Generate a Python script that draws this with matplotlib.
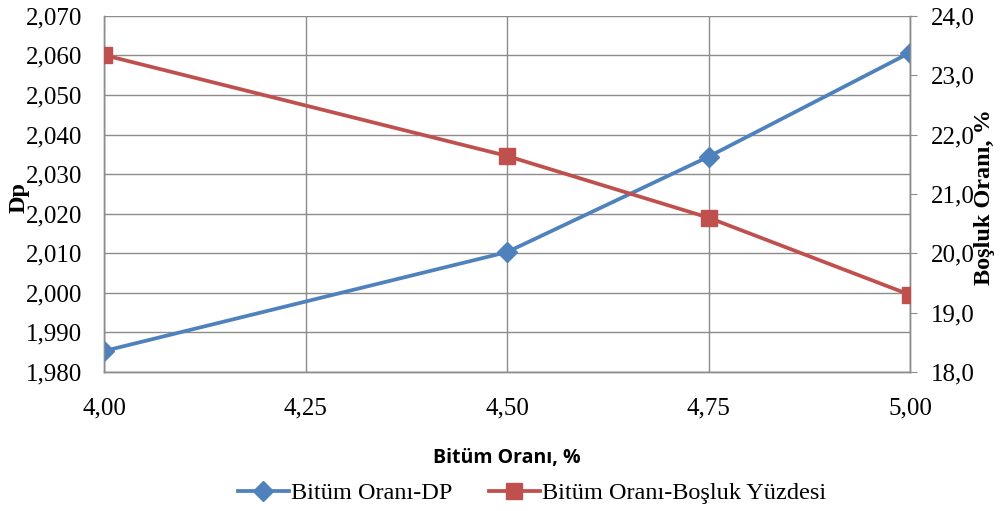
import matplotlib.pyplot as plt
from matplotlib.ticker import FuncFormatter

# Data
bitum = [4.00, 4.50, 4.75, 5.00]
dp = [1.9853, 2.0103, 2.0344, 2.0607]
bosluk = [23.34, 21.64, 20.60, 19.30]

x_ticks = [4.00, 4.25, 4.50, 4.75, 5.00]

blue = '#4F81BD'
red = '#C0504D'
grey = '#8C8C8C'
serif = ['Liberation Serif', 'DejaVu Serif']

fig = plt.figure(figsize=(10, 5.11), dpi=100)
ax = fig.add_axes([0.104, 0.272, 0.806, 0.697])
ax2 = ax.twinx()

l1, = ax.plot(bitum, dp, color=blue, lw=2.7, marker='D', ms=10.5,
              label='Bitüm Oranı-DP', zorder=3)
l2, = ax2.plot(bitum, bosluk, color=red, lw=2.7, marker='s', ms=12,
               label='Bitüm Oranı-Boşluk Yüzdesi', zorder=3)

ax.set_xlim(4.0, 5.0)
ax.set_ylim(1.980, 2.070)
ax2.set_ylim(18.0, 24.0)
ax.set_xticks(x_ticks)
ax.set_yticks([1.980 + 0.01 * i for i in range(10)])
ax2.set_yticks([18.0 + i for i in range(7)])

ax.xaxis.set_major_formatter(FuncFormatter(lambda v, p: f'{v:.2f}'.replace('.', ',')))
ax.yaxis.set_major_formatter(FuncFormatter(lambda v, p: f'{v:.3f}'.replace('.', ',')))
ax2.yaxis.set_major_formatter(FuncFormatter(lambda v, p: f'{v:.1f}'.replace('.', ',')))

ax.grid(True, color=grey, lw=1.0)
ax.set_axisbelow(True)
for a in (ax, ax2):
    for s in a.spines.values():
        s.set_color(grey)
        s.set_linewidth(1.0)
ax.spines['top'].set_visible(False)
ax2.spines['top'].set_visible(False)

ax.tick_params(axis='y', length=0, labelsize=18, pad=16)
ax.tick_params(axis='x', length=0, labelsize=18, pad=18)
ax2.tick_params(axis='y', length=5, color=grey, labelsize=18, pad=10)
for lab in ax.get_xticklabels() + ax.get_yticklabels() + ax2.get_yticklabels():
    lab.set_family(serif)

ax.set_ylabel('Dp', family=serif, fontweight='bold', fontsize=17.5)
ax.yaxis.set_label_coords(-0.092, 0.49)
ax2.set_ylabel('Boşluk Oranı, %', family=serif, fontweight='bold', fontsize=17.5)
ax2.yaxis.set_label_coords(1.08, 0.49)
ax.set_xlabel('Bitüm Oranı, %', fontweight='bold', fontsize=14,
              family=['Open Sans', 'DejaVu Sans'])
ax.xaxis.set_label_coords(0.5, -0.212)

fig.legend(handles=[l1, l2], loc='center', bbox_to_anchor=(0.532, 0.035), ncol=2,
           frameon=False, prop={'family': serif, 'size': 17.5}, handlelength=2.1,
           columnspacing=1.5, handletextpad=0.1)

fig.savefig('out.png', dpi=100)
